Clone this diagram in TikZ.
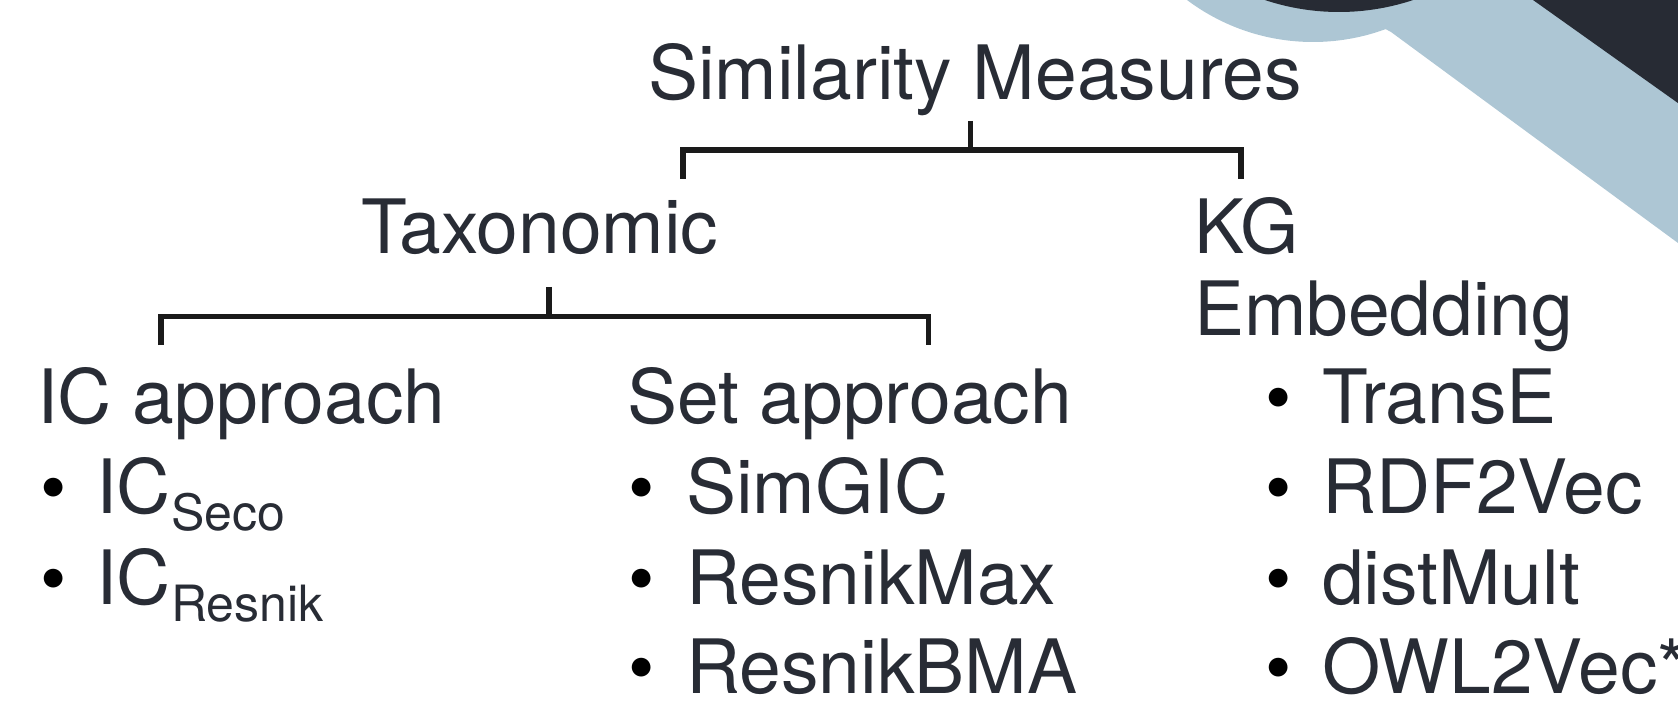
\documentclass[tikz,border=0pt]{standalone}
\usepackage{fontspec}
\setmainfont{TeX Gyre Heros}
\definecolor{ink}{HTML}{282C35}
\definecolor{rulecol}{HTML}{1A1A1A}
\definecolor{paleblue}{HTML}{ADC6D4}
\definecolor{slate}{HTML}{272B34}
\newcommand{\itembullet}[1]{\makebox[#1][l]{\textcolor{black}{\textbullet}}}
\newcommand{\lowidx}[1]{\raisebox{-17pt}{\fontsize{50}{50}\selectfont #1}}
\tikzset{
  txt/.style={anchor=base west, inner sep=0pt, outer sep=0pt, text=ink,
    font=\fontsize{75}{81.5}\selectfont},
  bracket/.style={draw=rulecol, line width=5.5pt, line join=miter, line cap=butt},
}
\begin{document}
\begin{tikzpicture}[x=1pt,y=-1pt]
  \useasboundingbox (0,0) rectangle (1678,703);
  \clip (0,0) rectangle (1678,703);

  % corner decoration
  \fill[paleblue] (1313,-168) circle[radius=210];
  \fill[paleblue] (1313,-10) -- (1391,32) -- (1678,243) -- (1700,243)
    -- (1700,-10) -- cycle;
  \fill[slate] (1339,-222) circle[radius=234];
  \fill[slate] (1533,0) -- (1700,118.7) -- (1700,-10) -- (1519,-10) -- cycle;

  % headings
  \node[txt] (sim) at (648,99.5) {Similarity Measures};
  \node[txt] (tax) at (361,253.6) {Taxonomic};
  \node[txt, align=left] (kg) at (1194,335) {KG\\Embedding};
  \node[txt] (ica) at (37,423.8) {IC approach};
  \node[txt] (seta) at (627,423.8) {Set approach};

  % IC approach items
  \node[txt] (icseco) at (40,513.7) {\itembullet{56pt}IC\lowidx{Seco}};
  \node[txt] (icresnik) at (40,604.7) {\itembullet{56pt}IC\lowidx{Resnik}};

  % set approach items
  \node[txt] (simgic) at (628,513.7) {\itembullet{58pt}SimGIC};
  \node[txt] (rmax) at (628,604.7) {\itembullet{58pt}ResnikMax};
  \node[txt] (rbma) at (628,693.5) {\itembullet{58pt}ResnikBMA};

  % KG embedding items
  \node[txt] (transe) at (1265,423.8) {\itembullet{57pt}TransE};
  \node[txt] (rdf) at (1265,513.7) {\itembullet{57pt}RDF2Vec};
  \node[txt] (dist) at (1265,604.7) {\itembullet{57pt}distMult};
  \node[txt] (owl) at (1265,693.5) {\itembullet{57pt}OWL2Vec*};

  % bracket from the root to its two branches
  \coordinate (rootstem) at (970.7,121);
  \coordinate (rootjoin) at (970.7,150);
  \coordinate (rootleft) at (683,179);
  \coordinate (rootright) at (1241,179);
  \draw[bracket] (rootleft) |- (rootjoin) -| (rootright);
  \draw[bracket] (rootstem) -- (rootjoin);

  % bracket below the taxonomic branch
  \coordinate (taxstem) at (549,287);
  \coordinate (taxjoin) at (549,316.5);
  \coordinate (taxleft) at (161,345);
  \coordinate (taxright) at (928.5,345);
  \draw[bracket] (taxleft) |- (taxjoin) -| (taxright);
  \draw[bracket] (taxstem) -- (taxjoin);
\end{tikzpicture}
\end{document}
